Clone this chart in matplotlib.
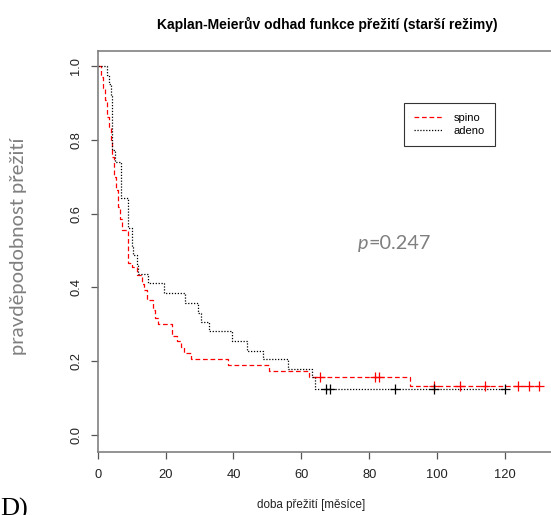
import numpy as np
import matplotlib
matplotlib.use("Agg")
import matplotlib.pyplot as plt

plt.rcParams['lines.scale_dashes'] = False

# ---- data ----
t_spino = [0, 1.0, 1.5, 2.2, 2.8, 3.3, 3.8, 4.3, 4.8, 5.4, 6.1, 6.6, 7.1, 8.8, 10.0, 11.5,
           13.0, 13.5, 14.6, 16.2, 16.9, 17.9, 21.8, 23.3, 24.5, 25.3, 27.5, 38.5, 50.5, 62.4, 92.1]
s_spino = [1.0, 0.97, 0.94, 0.908, 0.863, 0.835, 0.80, 0.754, 0.70, 0.664, 0.619, 0.585, 0.555,
           0.466, 0.455, 0.434, 0.41, 0.393, 0.366, 0.34, 0.316, 0.30, 0.268, 0.255, 0.239, 0.221,
           0.205, 0.19, 0.173, 0.156, 0.134]
cens_spino = [65.4, 81.6, 82.8, 99.0, 106.7, 114.0, 123.9, 127.0, 130.0]

t_adeno = [0, 2.6, 3.2, 3.8, 4.2, 4.3, 5.2, 6.9, 9.0, 10.0, 10.4, 11.6, 11.9, 14.9, 19.6, 25.8,
           29.5, 30.5, 32.9, 39.5, 44.0, 48.7, 56.0, 63.1, 63.9]
s_adeno = [1.0, 0.975, 0.95, 0.92, 0.85, 0.772, 0.74, 0.642, 0.561, 0.51, 0.488, 0.461, 0.436,
           0.412, 0.385, 0.359, 0.331, 0.307, 0.282, 0.255, 0.228, 0.205, 0.178, 0.158, 0.125]
cens_adeno = [67.3, 68.3, 87.7, 99.0, 119.9]

group_labels = ["spino", "adeno"]
x_ticks = [0, 20, 40, 60, 80, 100, 120]
y_ticks = [0.0, 0.2, 0.4, 0.6, 0.8, 1.0]
title = "Kaplan-Meierův odhad funkce přežití (starší režimy)"
xlabel = "doba přežití [měsíce]"
ylabel = "pravděpodobnost přežití"
p_sym = "p"
p_value = "=0.247"

W, H = 551, 515
fig = plt.figure(figsize=(W / 100, H / 100), dpi=100)
ppu_x = 3.394
left_px, bottom_px, top_px = 97.7, 452, 51
xmax = 136
ax = fig.add_axes([left_px / W, (H - bottom_px) / H, xmax * ppu_x / W, (bottom_px - top_px) / H])
ax.set_xlim(0, xmax)
y0_px, y1_px = 435, 66
ppu_y = y0_px - y1_px
ax.set_ylim(-(bottom_px - y0_px) / ppu_y, 1 + (y1_px - top_px) / ppu_y)

def surv_at(times, surv, t):
    idx = np.searchsorted(times, t, side='right') - 1
    return np.asarray(surv)[idx]

# curves
ts = list(t_spino) + [cens_spino[-1]]
ss = list(s_spino) + [s_spino[-1]]
ta = list(t_adeno) + [cens_adeno[-1]]
sa = list(s_adeno) + [s_adeno[-1]]
l1, = ax.step(ts, ss, where='post', color='#ff0000', lw=0.9, dashes=(3.4, 2.0), label=group_labels[0])
l2, = ax.step(ta, sa, where='post', color='#000000', lw=0.9, dashes=(0.9, 1.2), label=group_labels[1])
ax.plot(cens_spino, surv_at(t_spino, s_spino, cens_spino), ls='none', marker='+', ms=7, mew=0.9, color='#ff0000')
ax.plot(cens_adeno, surv_at(t_adeno, s_adeno, cens_adeno), ls='none', marker='+', ms=7, mew=0.9, color='#000000')

for side in ['left', 'bottom', 'top', 'right']:
    ax.spines[side].set_color('#808080')
    ax.spines[side].set_linewidth(1.2)

tick_font = {'family': 'Liberation Sans', 'size': 9.3}
ax.set_xticks(x_ticks)
ax.set_xticklabels([str(v) for v in x_ticks], fontdict=tick_font, color='#222222')
ax.set_yticks(y_ticks)
ax.set_yticklabels([f"{v:.1f}" for v in y_ticks], fontdict=tick_font, color='#222222', rotation=90, va='center')
ax.tick_params(axis='x', length=5, width=0.9, color='#555555', pad=7)
ax.tick_params(axis='y', length=5, width=0.9, color='#555555', pad=6)

fig.text(327.5 / W, 1 - 24 / H, title, ha='center', va='center', fontsize=10, fontweight='bold',
         family='Liberation Sans')
fig.text(311 / W, 1 - 505 / H, xlabel, ha='center', va='center', fontsize=8.4, family='Liberation Sans',
         color='#222222')
fig.text(19 / W, 1 - 246 / H, ylabel, ha='center', va='center', rotation=90, fontsize=14.6,
         family=['Lato', 'Open Sans', 'DejaVu Sans'], color='#7f7f7f')
yb = 1 - 249 / H
tp = fig.text(358 / W, yb, p_sym, ha='left', va='baseline', fontsize=14.3, style='italic',
              family=['Lato', 'DejaVu Sans'], color='#7f7f7f')
ax.annotate(p_value, xy=(1.0, yb), xycoords=(tp, 'figure fraction'), ha='left', va='baseline',
            fontsize=14.3, family=['Lato', 'DejaVu Sans'], color='#7f7f7f', annotation_clip=False)
fig.text(0 / W, 1 - 509 / H, "D)", ha='left', va='center', fontsize=19, family='Liberation Serif', color='black')

leg = ax.legend(handles=[l1, l2], loc='upper left', bbox_to_anchor=(404 / W, 1 - 103 / H),
                bbox_transform=fig.transFigure, frameon=True, fancybox=False, borderaxespad=0,
                prop={'family': 'Liberation Sans', 'size': 8}, handlelength=2.6, handletextpad=1.0,
                borderpad=0.9, labelspacing=0.3)
leg.get_frame().set_edgecolor('black')
leg.get_frame().set_linewidth(0.8)

fig.savefig('out.png', dpi=100)
